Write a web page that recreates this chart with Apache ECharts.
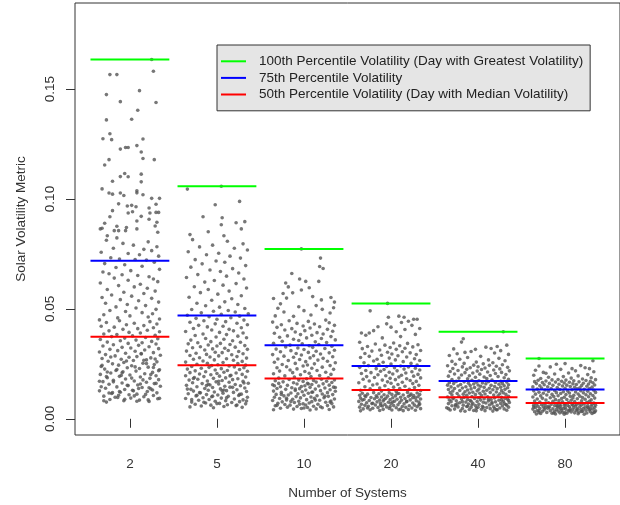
<!DOCTYPE html>
<html>
<head>
<meta charset="utf-8">
<script src="https://cdn.jsdelivr.net/npm/echarts@6/dist/echarts.min.js"></script>
<style>
html,body{margin:0;padding:0;background:#fff}
#main{width:620px;height:505px}
</style>
</head>
<body>
<div id="main"></div>
<script>
// categories and tick labels
var systems = ['2', '5', '10', '20', '40', '80'];
var yTicks = [0, 0.05, 0.10, 0.15];

// percentile lines, one value per category
var pct100 = [0.1635, 0.1058, 0.0773, 0.0525, 0.0396, 0.0274];
var pct75 = [0.0719, 0.0470, 0.0334, 0.0240, 0.0172, 0.0133];
var pct50 = [0.0373, 0.0243, 0.0183, 0.0131, 0.0098, 0.0072];

// jittered points: [jitter, volatility]
var pts2 = [[0.25,0.1635],[-0.23,0.1566],[-0.15,0.1566],[0.27,0.1581],[-0.27,0.1475],[0.11,0.1493],[-0.11,0.1443],[0.30,0.1439],[0.09,0.1404],[-0.27,0.1360],[0.02,0.1363],[-0.23,0.1297],[-0.31,0.1274],[-0.21,0.1270],[0.15,0.1273],[-0.11,0.1227],[-0.05,0.1234],[-0.02,0.1234],[0.08,0.1243],[0.13,0.1214],[-0.24,0.1179],[-0.29,0.1155],[0.15,0.1184],[0.28,0.1179],[-0.06,0.1116],[-0.11,0.1102],[-0.02,0.1101],[0.13,0.1113],[-0.20,0.1081],[0.13,0.1078],[-0.32,0.1046],[0.08,0.1037],[0.08,0.1028],[-0.24,0.1027],[-0.20,0.1022],[-0.11,0.1027],[-0.07,0.1016],[0.15,0.1019],[0.25,0.1003],[0.34,0.1003],[-0.13,0.0978],[0.30,0.0976],[-0.03,0.0968],[0.02,0.0971],[0.07,0.0965],[-0.20,0.0947],[0.22,0.0959],[-0.02,0.0936],[0.03,0.0942],[0.23,0.0936],[0.30,0.0939],[0.33,0.0939],[-0.23,0.0919],[0.13,0.0921],[0.22,0.0908],[0.08,0.0900],[-0.29,0.0890],[0.31,0.0894],[0.29,0.0877],[-0.32,0.0867],[-0.34,0.0864],[-0.15,0.0876],[-0.18,0.0856],[-0.13,0.0856],[-0.04,0.0870],[-0.05,0.0856],[0.08,0.0864],[0.32,0.0849],[-0.26,0.0833],[-0.15,0.0823],
[-0.27,0.0812],[0.21,0.0805],[-0.08,0.0798],[0.04,0.0790],[0.31,0.0783],[-0.19,0.0776],[0.16,0.0771],[0.25,0.0765],[-0.33,0.0758],[-0.02,0.0752],[0.11,0.0746],[0.33,0.0740],[-0.22,0.0733],[-0.12,0.0727],[0.06,0.0725],[0.19,0.0722],[0.28,0.0712],[-0.29,0.0706],[-0.06,0.0701],[0.14,0.0694],[-0.16,0.0688],[0.34,0.0680],[0.01,0.0674],[-0.31,0.0668],[-0.24,0.0660],[-0.09,0.0655],[0.09,0.0652],[0.22,0.0646],[-0.18,0.0640],[0.27,0.0636],[-0.02,0.0630],[0.32,0.0624],[-0.34,0.0618],[0.12,0.0612],[-0.13,0.0606],[0.05,0.0600],[0.20,0.0594],[-0.26,0.0588],[0.29,0.0581],[-0.07,0.0576],[0.16,0.0570],[-0.21,0.0563],[0.02,0.0558],[-0.32,0.0552],[0.25,0.0548],[-0.11,0.0542],[0.10,0.0537],[0.33,0.0531],[-0.28,0.0526],[-0.03,0.0520],[0.18,0.0515],[-0.16,0.0509],[0.07,0.0504],[0.30,0.0498],[-0.23,0.0493],[-0.05,0.0488],[0.14,0.0483],[0.26,0.0478],[-0.30,0.0473],[0.00,0.0468],[0.21,0.0463],[-0.14,0.0459],[0.34,0.0454],[-0.35,0.0450],
[-0.12,0.0446],[0.23,0.0442],[-0.27,0.0438],[0.05,0.0435],[0.31,0.0431],[-0.04,0.0428],[0.16,0.0424],[-0.33,0.0421],[-0.18,0.0417],[0.27,0.0414],[0.09,0.0410],[-0.08,0.0407],[0.20,0.0403],[-0.24,0.0400],[0.34,0.0396],[-0.01,0.0393],[0.12,0.0390],[-0.30,0.0386],[-0.15,0.0383],[0.29,0.0380],[0.03,0.0377],[-0.21,0.0374],[0.18,0.0370],[-0.06,0.0367],[0.32,0.0364],[-0.34,0.0361],[0.07,0.0358],[-0.11,0.0355],[0.25,0.0352],[-0.26,0.0349],[0.14,0.0346],[-0.02,0.0343],[0.30,0.0340],[-0.19,0.0337],[0.10,0.0334],[-0.31,0.0331],[0.22,0.0328],[-0.09,0.0325],[0.01,0.0322],[0.33,0.0319],[-0.23,0.0316],[0.17,0.0313],[-0.14,0.0310],[0.06,0.0307],[-0.35,0.0304],[0.27,0.0301],[-0.05,0.0298],[0.13,0.0295],[-0.28,0.0292],[0.35,0.0289],[-0.17,0.0286],[0.08,0.0283],[-0.01,0.0280],[0.24,0.0277],[-0.32,0.0274],[-0.10,0.0271],[0.19,0.0268],[0.04,0.0265],[-0.25,0.0262],[0.31,0.0259],[-0.07,0.0256],[0.15,0.0253],[-0.20,0.0250],[0.28,0.0247],[-0.13,0.0244],[0.02,0.0241],[-0.33,0.0238],[0.21,0.0235],[-0.03,0.0232],[0.11,0.0229],[-0.29,0.0226],[0.34,0.0223],[-0.16,0.0220],[0.07,0.0217],[-0.08,0.0214],[0.26,0.0211],[-0.22,0.0208],[0.17,0.0205],[-0.34,0.0202],[0.00,0.0199],[0.30,0.0196],[-0.12,0.0193],[0.12,0.0190],[-0.26,0.0187],[0.23,0.0184],[-0.05,0.0181],[0.33,0.0178],[-0.19,0.0175],[0.05,0.0172],[-0.31,0.0169],[0.19,0.0166],[-0.09,0.0163],[0.28,0.0160],[-0.24,0.0157],[0.09,0.0154],[-0.02,0.0151],[0.35,0.0148],[-0.15,0.0145],[0.14,0.0142],[-0.28,0.0139],[0.24,0.0136],[-0.06,0.0133],[0.03,0.0130],[-0.35,0.0127],[0.20,0.0124],[-0.11,0.0121],[0.31,0.0118],[-0.21,0.0115],[0.08,0.0112],[-0.01,0.0109],[0.27,0.0106],[-0.30,0.0103],[0.16,0.0100],[-0.14,0.0097],[0.01,0.0094],[0.32,0.0091],[-0.23,0.0088],[0.11,0.0085],[-0.07,0.0082],[0.22,0.0079],[-0.27,0.0076],
[0.13,0.0297],[-0.22,0.0281],[0.29,0.0272],[-0.04,0.0263],[0.19,0.0251],[-0.32,0.0243],[0.06,0.0236],[-0.15,0.0224],[0.33,0.0219],[-0.09,0.0209],[0.24,0.0201],[-0.27,0.0192],[0.02,0.0185],[0.15,0.0177],[-0.19,0.0168],[0.30,0.0161],[-0.03,0.0152],[-0.33,0.0146],[0.10,0.0138],[0.26,0.0131],[-0.12,0.0124],[-0.24,0.0117],[0.18,0.0111],[0.05,0.0104],[-0.17,0.0098],[0.34,0.0093],[-0.06,0.0089],[0.21,0.0086],[-0.30,0.0082],[0.08,0.0080],[-0.20,0.0119],[0.12,0.0158],[-0.10,0.0197],[0.27,0.0233],[-0.35,0.0171],[0.04,0.0127],[0.22,0.0141],[-0.26,0.0213],[0.16,0.0266],[-0.13,0.0107]];

var pts5 = [[0.05,0.1058],[-0.34,0.1045],[-0.02,0.0974],[0.26,0.0989],[-0.16,0.0919],[0.06,0.0915],[0.22,0.0892],[0.32,0.0897],[0.05,0.0883],[0.28,0.0864],[-0.10,0.0851],[-0.31,0.0838],[0.08,0.0833],
[-0.28,0.0815],[0.12,0.0808],[0.30,0.0796],[-0.05,0.0790],[-0.20,0.0782],[0.20,0.0776],[0.35,0.0768],[-0.33,0.0760],[0.02,0.0753],[-0.12,0.0746],[0.15,0.0740],[0.27,0.0731],[-0.25,0.0724],[-0.01,0.0718],[0.09,0.0712],[-0.17,0.0705],[0.33,0.0697],[-0.30,0.0690],[0.18,0.0683],[-0.08,0.0677],[0.04,0.0670],[0.25,0.0663],[-0.22,0.0656],[0.11,0.0649],[-0.35,0.0643],[0.31,0.0636],[-0.03,0.0629],[-0.14,0.0622],[0.22,0.0615],[0.07,0.0608],[-0.26,0.0601],[0.34,0.0595],[-0.10,0.0588],[0.14,0.0581],[-0.19,0.0574],[0.01,0.0567],[0.28,0.0560],[-0.32,0.0553],[0.17,0.0546],[-0.06,0.0539],[0.09,0.0532],[-0.23,0.0526],[0.24,0.0520],[-0.13,0.0514],[0.03,0.0508],[0.32,0.0502],
[-0.29,0.0497],[0.13,0.0493],[-0.04,0.0489],[0.21,0.0486],[-0.18,0.0482],[0.36,0.0478],[0.05,0.0475],[-0.34,0.0471],[0.26,0.0467],[-0.09,0.0464],[0.16,0.0460],[-0.24,0.0457],[0.00,0.0453],[0.31,0.0449],[-0.15,0.0446],[0.10,0.0442],[-0.31,0.0439],[0.23,0.0435],[-0.02,0.0432],[0.35,0.0428],[-0.21,0.0425],[0.07,0.0421],[-0.11,0.0418],[0.28,0.0414],[-0.27,0.0411],[0.14,0.0407],[-0.06,0.0404],[0.19,0.0400],[-0.36,0.0397],[0.03,0.0393],[0.30,0.0390],[-0.16,0.0386],[0.11,0.0383],[-0.25,0.0379],[0.24,0.0376],[-0.01,0.0372],[0.34,0.0369],[-0.13,0.0365],[0.08,0.0362],[-0.30,0.0358],[0.18,0.0355],[-0.07,0.0351],
[0.27,0.0348],[-0.22,0.0346],[0.04,0.0343],[-0.33,0.0341],[0.15,0.0338],[-0.10,0.0336],[0.32,0.0333],[0.00,0.0331],[-0.19,0.0328],[0.21,0.0326],[-0.28,0.0323],[0.09,0.0321],[-0.05,0.0318],[0.35,0.0316],[-0.14,0.0313],[0.13,0.0311],[-0.35,0.0308],[0.25,0.0306],[-0.02,0.0303],[0.06,0.0301],[-0.24,0.0298],[0.30,0.0296],[-0.12,0.0293],[0.17,0.0291],[-0.31,0.0288],[0.02,0.0286],[0.23,0.0283],[-0.08,0.0281],[-0.20,0.0278],[0.34,0.0276],[0.11,0.0273],[-0.27,0.0271],[-0.03,0.0268],[0.19,0.0266],[-0.16,0.0263],[0.29,0.0261],[-0.36,0.0258],[0.07,0.0256],[-0.11,0.0253],[0.24,0.0251],[-0.23,0.0248],[0.01,0.0246],[0.33,0.0244],[-0.06,0.0242],[0.14,0.0240],
[-0.29,0.0238],[0.20,0.0236],[-0.09,0.0234],[0.31,0.0232],[-0.18,0.0230],[0.05,0.0228],[-0.34,0.0226],[0.26,0.0224],[-0.02,0.0222],[0.12,0.0220],[-0.25,0.0218],[0.35,0.0216],[-0.13,0.0214],[0.08,0.0212],[-0.31,0.0210],[0.22,0.0208],[0.00,0.0206],[-0.20,0.0204],[0.29,0.0202],[-0.07,0.0200],[0.16,0.0198],[-0.36,0.0196],[0.03,0.0194],[-0.15,0.0192],[0.33,0.0190],[-0.26,0.0188],[0.10,0.0186],[-0.04,0.0184],[0.24,0.0182],[-0.22,0.0180],[0.18,0.0178],[-0.32,0.0176],[0.06,0.0174],[-0.11,0.0172],[0.30,0.0170],[-0.01,0.0168],[0.14,0.0166],[-0.28,0.0164],[0.36,0.0162],[-0.17,0.0160],[0.02,0.0158],[0.21,0.0156],[-0.08,0.0154],[-0.35,0.0152],[0.27,0.0150],[0.09,0.0148],[-0.23,0.0146],[0.15,0.0144],[-0.05,0.0142],[0.32,0.0140],[-0.14,0.0138],[0.04,0.0136],[-0.30,0.0134],[0.23,0.0132],[-0.10,0.0130],[0.11,0.0128],[-0.27,0.0126],[0.34,0.0124],[-0.03,0.0122],[0.19,0.0120],[-0.19,0.0118],[0.07,0.0116],[-0.33,0.0114],[0.28,0.0112],[-0.12,0.0110],[0.01,0.0108],[0.25,0.0106],[-0.24,0.0104],[0.13,0.0102],[-0.06,0.0100],[0.35,0.0098],[-0.16,0.0096],[0.05,0.0094],[-0.36,0.0092],[0.20,0.0090],[-0.09,0.0088],[0.30,0.0086],[-0.21,0.0084],[0.10,0.0082],[-0.02,0.0080],[0.26,0.0078],[-0.29,0.0076],[0.17,0.0074],[-0.13,0.0072],[0.03,0.0070],[0.33,0.0068],[-0.25,0.0066],[0.12,0.0064],[-0.07,0.0062],[0.22,0.0060],[-0.18,0.0058],[0.08,0.0056],[-0.31,0.0054],[0.29,0.0052],[-0.04,0.0050],
[0.15,0.0195],[-0.27,0.0183],[0.02,0.0171],[0.31,0.0163],[-0.12,0.0151],[0.18,0.0143],[-0.34,0.0135],[0.06,0.0127],[-0.20,0.0119],[0.26,0.0111],[-0.05,0.0103],[0.11,0.0095],[-0.29,0.0087],[0.34,0.0081],[-0.15,0.0075],[0.00,0.0069],[0.23,0.0063],[-0.23,0.0107],[0.08,0.0131],[-0.10,0.0157]];

var pts10 = [[-0.03,0.0773],[0.19,0.0731],[0.18,0.0693],[0.22,0.0684],[-0.14,0.0661],[-0.05,0.0636],[0.02,0.0625],[0.17,0.0625],[-0.21,0.0618],[-0.18,0.0600],[-0.03,0.0586],[0.06,0.0596],
[-0.35,0.0547],[-0.24,0.0570],[-0.27,0.0523],[-0.20,0.0549],[-0.13,0.0573],[0.10,0.0556],[0.20,0.0541],[0.31,0.0552],[0.35,0.0531],[-0.30,0.0503],[-0.23,0.0486],[-0.12,0.0466],[-0.06,0.0510],[0.08,0.0472],[0.21,0.0498],[0.30,0.0481],[0.34,0.0505],[0.00,0.0492],[0.14,0.0515],[-0.33,0.0468],
[0.25,0.0449],[-0.17,0.0446],[0.05,0.0443],[-0.36,0.0440],[0.29,0.0437],[-0.08,0.0434],[0.12,0.0431],[-0.26,0.0428],[0.35,0.0425],[-0.01,0.0422],[0.18,0.0419],[-0.31,0.0416],[0.07,0.0413],[-0.14,0.0410],[0.27,0.0407],[-0.22,0.0404],[0.01,0.0401],[0.33,0.0398],[-0.10,0.0395],[0.15,0.0392],[-0.34,0.0389],[0.22,0.0386],[-0.04,0.0383],[0.09,0.0380],[-0.19,0.0377],[0.31,0.0374],[-0.28,0.0371],[0.03,0.0368],[0.20,0.0365],[-0.12,0.0362],[0.36,0.0359],[-0.06,0.0356],[-0.25,0.0353],[0.13,0.0350],[0.26,0.0347],[-0.35,0.0344],[-0.02,0.0341],[0.17,0.0338],[-0.16,0.0335],[0.06,0.0332],
[0.32,0.0330],[-0.21,0.0327],[0.10,0.0325],[-0.07,0.0322],[0.24,0.0320],[-0.32,0.0317],[0.00,0.0315],[0.35,0.0312],[-0.15,0.0310],[0.14,0.0307],[-0.27,0.0305],[0.05,0.0302],[0.29,0.0300],[-0.09,0.0297],[0.19,0.0295],[-0.36,0.0292],[-0.03,0.0290],[0.11,0.0287],[-0.23,0.0285],[0.33,0.0282],[-0.12,0.0280],[0.07,0.0277],[0.22,0.0275],[-0.30,0.0272],[-0.05,0.0270],[0.16,0.0267],[-0.18,0.0265],[0.27,0.0262],[0.02,0.0260],[-0.34,0.0257],[0.36,0.0255],[-0.10,0.0252],[0.12,0.0250],[-0.25,0.0247],[0.04,0.0245],[0.30,0.0242],[-0.01,0.0240],[-0.20,0.0237],[0.21,0.0235],[-0.31,0.0232],[0.09,0.0230],[-0.08,0.0227],[0.34,0.0225],[-0.16,0.0222],[0.15,0.0220],[-0.28,0.0217],[0.01,0.0215],[0.25,0.0212],[-0.13,0.0210],[0.06,0.0207],[-0.35,0.0205],[0.31,0.0202],[-0.04,0.0200],[0.18,0.0197],[-0.22,0.0195],[0.08,0.0192],[-0.11,0.0190],[0.28,0.0187],[-0.29,0.0185],[0.03,0.0182],
[0.20,0.0180],[-0.17,0.0179],[0.35,0.0177],[-0.06,0.0176],[0.11,0.0174],[-0.33,0.0173],[0.26,0.0171],[-0.01,0.0170],[-0.24,0.0168],[0.14,0.0167],[0.32,0.0165],[-0.12,0.0164],[0.04,0.0162],[-0.29,0.0161],[0.22,0.0159],[-0.08,0.0158],[0.09,0.0156],[-0.36,0.0155],[0.29,0.0153],[-0.19,0.0152],[0.01,0.0150],[0.17,0.0149],[-0.03,0.0147],[-0.27,0.0146],[0.34,0.0144],[0.07,0.0143],[-0.14,0.0141],[0.24,0.0140],[-0.31,0.0138],[-0.05,0.0137],[0.13,0.0135],[-0.21,0.0134],[0.30,0.0132],[0.02,0.0131],[-0.10,0.0129],[0.19,0.0128],[-0.35,0.0126],[0.36,0.0125],[-0.02,0.0123],[0.10,0.0122],[-0.26,0.0120],[0.27,0.0119],[-0.15,0.0117],[0.05,0.0116],[-0.07,0.0114],[0.21,0.0113],[-0.32,0.0111],[0.33,0.0110],[-0.18,0.0108],[0.00,0.0107],[0.15,0.0105],[-0.23,0.0104],[0.28,0.0102],[-0.09,0.0101],[0.08,0.0099],[-0.34,0.0098],[0.23,0.0096],[-0.04,0.0095],[0.12,0.0093],[-0.28,0.0092],[0.35,0.0090],[-0.13,0.0089],[0.03,0.0087],[-0.20,0.0086],[0.18,0.0084],[-0.36,0.0083],[0.31,0.0081],[-0.06,0.0080],[0.09,0.0078],[-0.25,0.0077],[0.25,0.0075],[-0.11,0.0074],[0.06,0.0072],[-0.30,0.0071],[0.32,0.0069],[-0.01,0.0068],[0.16,0.0066],[-0.22,0.0065],[0.02,0.0063],[-0.16,0.0062],[0.27,0.0060],[-0.33,0.0059],[0.11,0.0057],[-0.08,0.0056],[0.34,0.0054],[-0.19,0.0053],[0.04,0.0051],[0.21,0.0050],[-0.27,0.0048],[-0.03,0.0047],[0.14,0.0045],[-0.12,0.0044],[0.29,0.0042],[-0.35,0.0041],[0.07,0.0040],
[-0.20,0.0093],[0.13,0.0085],[0.30,0.0076],[-0.05,0.0066],[-0.31,0.0061],[0.19,0.0055],[0.00,0.0049],[-0.15,0.0079],[0.24,0.0103],[-0.26,0.0111],[0.09,0.0121],[-0.10,0.0135],[0.36,0.0142],[-0.34,0.0150],[0.05,0.0158]];

var pts20 = [[-0.04,0.0525],[-0.24,0.0491],[-0.03,0.0462],[0.09,0.0467],[0.15,0.0462],[0.26,0.0453],[0.30,0.0453],[-0.34,0.0390],[-0.25,0.0390],[0.00,0.0417],[0.16,0.0406],
[0.20,0.0444],[0.12,0.0438],[-0.05,0.0432],[0.24,0.0425],[-0.15,0.0419],[0.33,0.0411],[-0.20,0.0401],[0.06,0.0396],[-0.29,0.0380],[0.11,0.0374],[0.28,0.0384],[-0.10,0.0368],
[-0.36,0.0348],[0.03,0.0345],[0.19,0.0343],[-0.18,0.0340],[0.31,0.0337],[-0.07,0.0335],[0.10,0.0332],[-0.27,0.0329],[0.25,0.0327],[-0.01,0.0324],[0.16,0.0321],[-0.33,0.0319],[0.06,0.0316],[-0.13,0.0313],[0.34,0.0311],[-0.22,0.0308],[0.13,0.0305],[-0.04,0.0303],[0.22,0.0300],[-0.30,0.0297],[0.01,0.0295],[0.29,0.0292],[-0.11,0.0289],[0.08,0.0287],[-0.25,0.0284],[0.18,0.0281],[-0.35,0.0279],[-0.02,0.0276],[0.27,0.0273],[-0.16,0.0271],[0.05,0.0268],[0.33,0.0265],[-0.20,0.0263],[0.14,0.0260],[-0.09,0.0257],[-0.31,0.0255],[0.23,0.0252],[0.00,0.0249],[-0.14,0.0247],[0.30,0.0244],
[-0.26,0.0242],[0.11,0.0240],[-0.05,0.0238],[0.20,0.0236],[-0.36,0.0234],[0.04,0.0232],[0.28,0.0230],[-0.17,0.0228],[0.15,0.0226],[-0.08,0.0224],[0.33,0.0222],[-0.29,0.0220],[0.07,0.0218],[-0.12,0.0216],[0.24,0.0214],[-0.02,0.0212],[-0.23,0.0210],[0.17,0.0208],[-0.34,0.0206],[0.02,0.0204],[0.31,0.0202],[-0.15,0.0200],[0.12,0.0198],[-0.06,0.0196],[0.26,0.0194],[-0.28,0.0192],[0.09,0.0190],[-0.19,0.0188],[0.34,0.0186],[-0.01,0.0184],[0.18,0.0182],[-0.32,0.0180],[0.05,0.0178],[-0.10,0.0176],[0.22,0.0174],[-0.25,0.0172],[0.29,0.0170],[-0.04,0.0168],[0.13,0.0166],[-0.37,0.0164],[0.00,0.0162],[0.25,0.0160],[-0.16,0.0158],[0.08,0.0156],[-0.21,0.0154],[0.32,0.0152],[-0.07,0.0150],[0.16,0.0148],[-0.30,0.0146],[0.03,0.0144],[0.27,0.0142],[-0.13,0.0140],[0.10,0.0138],[-0.24,0.0136],[0.21,0.0134],[-0.03,0.0132],[-0.35,0.0130],[0.34,0.0128],[-0.11,0.0126],[0.06,0.0124],
[0.19,0.0120],[-0.20,0.0119],[-0.02,0.0118],[0.30,0.0117],[-0.33,0.0116],[0.09,0.0115],[-0.14,0.0114],[0.23,0.0113],[-0.27,0.0112],[0.01,0.0111],[0.33,0.0110],[-0.08,0.0109],[0.14,0.0108],[-0.36,0.0107],[0.26,0.0106],[-0.17,0.0105],[0.05,0.0104],[-0.04,0.0103],[0.20,0.0102],[-0.29,0.0101],[0.31,0.0100],[-0.11,0.0099],[0.11,0.0098],[-0.23,0.0097],[0.02,0.0096],[0.28,0.0095],[-0.35,0.0094],[-0.06,0.0093],[0.16,0.0092],[-0.19,0.0091],[0.34,0.0090],[0.07,0.0089],[-0.31,0.0088],[-0.01,0.0087],[0.22,0.0086],[-0.13,0.0085],[0.12,0.0084],[-0.25,0.0083],[0.29,0.0082],[-0.09,0.0081],[0.04,0.0080],[-0.37,0.0079],[0.18,0.0078],[-0.16,0.0077],[0.32,0.0076],[-0.03,0.0075],[0.10,0.0074],[-0.28,0.0073],[0.25,0.0072],[-0.12,0.0071],[0.00,0.0070],[-0.22,0.0069],[0.15,0.0068],[0.33,0.0067],[-0.34,0.0066],[-0.07,0.0065],[0.08,0.0064],[-0.18,0.0063],[0.27,0.0062],[-0.30,0.0061],[0.03,0.0060],[0.21,0.0059],[-0.10,0.0058],[-0.26,0.0057],[0.13,0.0056],[0.30,0.0055],[-0.05,0.0054],[-0.36,0.0053],[0.17,0.0052],[-0.15,0.0051],[0.06,0.0050],[0.24,0.0049],[-0.21,0.0048],[-0.02,0.0047],[0.34,0.0046],[-0.32,0.0045],[0.11,0.0044],[-0.09,0.0043],[0.20,0.0042],[-0.24,0.0041],[0.01,0.0040],[0.28,0.0039],[-0.13,0.0038],[0.14,0.0037],[-0.35,0.0036],
[0.07,0.0114],[-0.30,0.0105],[0.25,0.0096],[-0.08,0.0088],[0.18,0.0079],[-0.21,0.0071],[0.32,0.0063],[-0.01,0.0056],[-0.27,0.0049],[0.09,0.0041],[-0.16,0.0098],[0.22,0.0107],[-0.33,0.0085],[0.02,0.0076],[-0.12,0.0061]];

var pts40 = [[0.29,0.0396],[-0.17,0.0364],[-0.19,0.0349],[0.15,0.0320],[0.22,0.0329],[0.26,0.0310],[-0.03,0.0316],[-0.24,0.0296],[-0.15,0.0302],
[0.33,0.0335],[0.09,0.0326],[-0.28,0.0318],[-0.08,0.0306],[0.19,0.0299],[0.35,0.0293],[-0.33,0.0288],[0.03,0.0284],[-0.12,0.0279],[0.24,0.0275],[-0.21,0.0271],[0.12,0.0268],[0.31,0.0264],[-0.30,0.0261],[-0.02,0.0258],[0.17,0.0255],[-0.16,0.0252],[0.06,0.0250],
[-0.26,0.0248],[0.28,0.0246],[-0.05,0.0244],[0.13,0.0243],[-0.35,0.0241],[0.21,0.0239],[0.00,0.0237],[-0.18,0.0236],[0.34,0.0234],[-0.09,0.0232],[0.08,0.0231],[-0.29,0.0229],[0.25,0.0227],[-0.13,0.0225],[0.04,0.0224],[0.18,0.0222],[-0.23,0.0220],[0.36,0.0218],[-0.01,0.0217],[-0.32,0.0215],[0.11,0.0213],[0.27,0.0211],[-0.15,0.0210],[-0.06,0.0208],[0.20,0.0206],[-0.27,0.0204],[0.02,0.0203],[0.32,0.0201],[-0.19,0.0199],[0.14,0.0197],[-0.10,0.0196],[-0.34,0.0194],[0.23,0.0192],[0.07,0.0190],[-0.03,0.0189],[0.30,0.0187],[-0.22,0.0185],[0.10,0.0183],[-0.12,0.0182],[0.35,0.0180],[-0.30,0.0178],[0.16,0.0176],[-0.07,0.0175],[0.01,0.0173],[0.26,0.0171],
[-0.25,0.0170],[0.12,0.0169],[-0.16,0.0168],[0.33,0.0167],[-0.02,0.0166],[0.20,0.0165],[-0.33,0.0164],[0.05,0.0163],[-0.11,0.0162],[0.28,0.0161],[-0.28,0.0160],[0.09,0.0159],[-0.05,0.0158],[0.24,0.0157],[-0.20,0.0156],[0.35,0.0155],[0.00,0.0154],[-0.35,0.0153],[0.15,0.0152],[-0.09,0.0151],[0.30,0.0150],[-0.23,0.0149],[0.03,0.0148],[0.19,0.0147],[-0.14,0.0146],[-0.31,0.0145],[0.26,0.0144],[0.07,0.0143],[-0.04,0.0142],[0.34,0.0141],[-0.18,0.0140],[0.13,0.0139],[-0.27,0.0138],[0.22,0.0137],[-0.08,0.0136],[0.01,0.0135],[0.31,0.0134],[-0.34,0.0133],[0.17,0.0132],[-0.12,0.0131],[0.10,0.0130],[-0.21,0.0129],[0.27,0.0128],[-0.01,0.0127],[-0.29,0.0126],[0.06,0.0125],[0.36,0.0124],[-0.15,0.0123],[0.21,0.0122],[-0.06,0.0121],[0.14,0.0120],[-0.32,0.0119],[0.29,0.0118],[-0.10,0.0117],[0.02,0.0116],[-0.24,0.0115],[0.25,0.0114],[0.08,0.0113],[-0.17,0.0112],[0.32,0.0111],[-0.03,0.0110],[-0.30,0.0109],[0.18,0.0108],[-0.13,0.0107],[0.04,0.0106],
[0.23,0.0104],[-0.22,0.0103],[0.35,0.0102],[-0.07,0.0101],[0.11,0.0100],[-0.35,0.0099],[0.27,0.0098],[-0.16,0.0097],[0.00,0.0096],[0.19,0.0095],[-0.28,0.0094],[0.31,0.0093],[-0.04,0.0092],[0.07,0.0091],[-0.19,0.0090],[0.34,0.0089],[-0.12,0.0088],[0.15,0.0087],[-0.33,0.0086],[0.03,0.0085],[0.24,0.0084],[-0.09,0.0083],[-0.25,0.0082],[0.12,0.0081],[0.29,0.0080],[-0.01,0.0079],[-0.31,0.0078],[0.20,0.0077],[-0.14,0.0076],[0.06,0.0075],[0.36,0.0074],[-0.21,0.0073],[0.09,0.0072],[-0.06,0.0071],[0.26,0.0070],[-0.34,0.0069],[0.16,0.0068],[-0.11,0.0067],[0.01,0.0066],[0.32,0.0065],[-0.26,0.0064],[0.13,0.0063],[-0.17,0.0062],[0.22,0.0061],[-0.03,0.0060],[-0.30,0.0059],[0.28,0.0058],[0.05,0.0057],[-0.13,0.0056],[0.18,0.0055],[-0.23,0.0054],[0.35,0.0053],[-0.08,0.0052],[0.10,0.0051],[-0.36,0.0050],[0.25,0.0049],[-0.02,0.0048],[-0.18,0.0047],[0.14,0.0046],[0.30,0.0045],[-0.27,0.0044],[0.04,0.0043],[-0.10,0.0042],[0.21,0.0041],[-0.32,0.0040],[0.33,0.0039],[-0.05,0.0038],[0.08,0.0037],[-0.20,0.0036],[0.17,0.0035],[-0.15,0.0034],
[0.02,0.0097],[-0.29,0.0091],[0.27,0.0086],[-0.08,0.0080],[0.16,0.0074],[-0.24,0.0068],[0.33,0.0062],[-0.12,0.0057],[0.06,0.0051],[-0.34,0.0046],[0.22,0.0041],[-0.02,0.0036],[0.12,0.0089],[-0.18,0.0078],[0.30,0.0070],[-0.07,0.0064],[0.00,0.0053],[-0.26,0.0058],[0.19,0.0047],[0.35,0.0083]];

var pts80 = [[-0.30,0.0274],[0.32,0.0264],[-0.30,0.0240],[-0.10,0.0248],[0.00,0.0251],[0.28,0.0228],[0.08,0.0228],[-0.22,0.0207],
[0.18,0.0242],[-0.17,0.0236],[0.23,0.0232],[-0.05,0.0225],[-0.34,0.0221],[0.12,0.0218],[0.33,0.0214],[-0.25,0.0211],[0.04,0.0208],[-0.12,0.0204],[0.26,0.0201],[-0.36,0.0198],[0.15,0.0195],[-0.02,0.0192],[-0.19,0.0189],[0.30,0.0187],[0.07,0.0185],[-0.28,0.0183],[0.20,0.0181],[-0.08,0.0179],
[0.35,0.0178],[-0.15,0.0177],[0.01,0.0176],[-0.31,0.0175],[0.24,0.0174],[0.10,0.0173],[-0.22,0.0172],[-0.04,0.0171],[0.29,0.0170],[-0.35,0.0169],[0.16,0.0168],[-0.11,0.0167],[0.05,0.0166],[-0.26,0.0165],[0.32,0.0164],[-0.01,0.0163],[0.21,0.0162],[-0.18,0.0161],[-0.33,0.0160],[0.09,0.0159],[0.27,0.0158],[-0.07,0.0157],[0.13,0.0156],[-0.24,0.0155],[0.34,0.0154],[0.02,0.0153],[-0.14,0.0152],[0.19,0.0151],[-0.29,0.0150],[-0.03,0.0149],[0.25,0.0148],[0.06,0.0147],[-0.20,0.0146],[-0.37,0.0145],[0.31,0.0144],[0.11,0.0143],[-0.09,0.0142],[0.17,0.0141],[-0.27,0.0140],[0.00,0.0139],[0.28,0.0138],[-0.16,0.0137],[0.14,0.0136],[-0.32,0.0135],[0.22,0.0134],
[-0.06,0.0133],[0.08,0.0132],[-0.23,0.0131],[0.33,0.0130],[-0.12,0.0129],[0.18,0.0128],[-0.36,0.0127],[0.03,0.0126],[0.26,0.0125],[-0.19,0.0124],[-0.02,0.0123],[0.12,0.0122],[-0.30,0.0121],[0.35,0.0120],[-0.10,0.0119],[0.21,0.0118],[0.05,0.0117],[-0.25,0.0116],[-0.05,0.0115],[0.29,0.0114],[0.15,0.0113],[-0.34,0.0112],[-0.15,0.0111],[0.01,0.0110],[0.24,0.0109],[-0.21,0.0108],[0.10,0.0107],[0.32,0.0106],[-0.08,0.0105],[-0.28,0.0104],[0.17,0.0103],[0.06,0.0102],[-0.13,0.0101],[0.27,0.0100],[-0.37,0.0099],[-0.01,0.0098],[0.20,0.0097],[-0.17,0.0096],[0.09,0.0095],[0.34,0.0094],[-0.26,0.0093],[-0.04,0.0092],[0.14,0.0091],[-0.32,0.0090],[0.23,0.0089],[0.02,0.0088],[-0.11,0.0087],[0.30,0.0086],[-0.22,0.0085],[0.07,0.0084],[-0.07,0.0083],[0.19,0.0082],[-0.35,0.0081],[0.28,0.0080],[-0.14,0.0079],[0.11,0.0078],[-0.03,0.0077],[-0.29,0.0076],[0.25,0.0075],[0.04,0.0074],[-0.19,0.0073],[0.33,0.0072],[-0.09,0.0071],[0.16,0.0070],[-0.24,0.0069],[0.00,0.0068],[0.22,0.0067],[-0.33,0.0066],[0.13,0.0065],[-0.06,0.0064],
[0.31,0.0066],[-0.16,0.0065],[0.08,0.0065],[-0.27,0.0064],[0.19,0.0063],[-0.01,0.0063],[0.35,0.0062],[-0.36,0.0062],[0.03,0.0061],[-0.12,0.0060],[0.26,0.0060],[-0.22,0.0059],[0.12,0.0058],[-0.05,0.0058],[0.30,0.0057],[-0.31,0.0057],[0.17,0.0056],[-0.09,0.0055],[0.05,0.0055],[-0.25,0.0054],[0.23,0.0053],[0.00,0.0053],[-0.18,0.0052],[0.34,0.0052],[-0.34,0.0051],[0.10,0.0050],[-0.07,0.0050],[0.27,0.0049],[-0.20,0.0048],[0.14,0.0048],[-0.02,0.0047],[-0.29,0.0047],[0.21,0.0046],[0.06,0.0045],[-0.14,0.0045],[0.32,0.0044],[-0.37,0.0044],[0.01,0.0043],[0.18,0.0042],[-0.10,0.0042],[-0.24,0.0041],[0.28,0.0040],[0.09,0.0040],[-0.04,0.0039],[0.24,0.0039],[-0.32,0.0038],[0.13,0.0037],[-0.17,0.0037],[0.35,0.0036],[-0.08,0.0035],[0.04,0.0035],[-0.26,0.0034],[0.20,0.0034],[-0.12,0.0033],[0.29,0.0032],[-0.35,0.0032],[0.07,0.0031],[-0.03,0.0030],[0.16,0.0030],[-0.21,0.0029],[0.33,0.0029],[-0.30,0.0028],[0.11,0.0027],[-0.06,0.0027],[0.25,0.0026],[-0.15,0.0025],[0.02,0.0025],[0.31,0.0024],[-0.28,0.0024],[0.15,0.0023],[-0.11,0.0022],[-0.33,0.0022],[0.22,0.0021],[-0.01,0.0021],
[0.09,0.0061],[-0.19,0.0056],[0.26,0.0051],[-0.05,0.0046],[0.14,0.0041],[-0.30,0.0036],[0.34,0.0031],[-0.13,0.0026],[0.05,0.0039],[-0.23,0.0049],[0.19,0.0033],[-0.36,0.0054],[0.29,0.0044],[0.00,0.0028],[-0.09,0.0059]];

var groups = [pts2, pts5, pts10, pts20, pts40, pts80];
var seriesNames = [
  '100th Percentile Volatility (Day with Greatest Volatility)',
  '75th Percentile Volatility',
  '50th Percentile Volatility (Day with Median Volatility)'
];

var cloud = [];
groups.forEach(function (g, i) {
  g.forEach(function (p) { cloud.push([i + 1 + p[0], p[1]]); });
});

// one short horizontal segment per category, gaps between
function segments(vals) {
  var out = [];
  vals.forEach(function (v, i) {
    out.push([i + 0.547, v], [i + 1.453, v], [i + 1.453, '-']);
  });
  return out;
}

var font = 'Liberation Sans, Arial, Helvetica, sans-serif';
var fs = 13.5;
var myChart = echarts.init(document.getElementById('main'));

var option = {
  animation: false,
  textStyle: { fontFamily: font },
  grid: {
    left: 75, top: 3, width: 546, height: 434,
    show: true, borderColor: '#333', borderWidth: 1, backgroundColor: 'transparent'
  },
  legend: {
    data: seriesNames,
    orient: 'vertical',
    left: 217, top: 45,
    backgroundColor: '#e5e5e5',
    borderColor: '#333', borderWidth: 1, borderRadius: 0,
    padding: [8, 7, 8, 4],
    itemGap: 0,
    itemWidth: 25, itemHeight: 2,
    icon: 'rect',
    textStyle: { fontSize: fs, color: '#222', fontFamily: font, lineHeight: 16.6, padding: [0, 0, 0, 8] }
  },
  xAxis: {
    type: 'value',
    min: 0.369, max: 6.631,
    name: 'Number of Systems',
    nameLocation: 'middle',
    nameGap: 51,
    nameTextStyle: { fontSize: fs, color: '#333' },
    axisLine: { show: false },
    splitLine: { show: false },
    axisTick: { show: true, length: 9, customValues: [1, 2, 3, 4, 5, 6], lineStyle: { color: '#333' } },
    axisLabel: {
      customValues: [1, 2, 3, 4, 5, 6],
      margin: 22, fontSize: fs, color: '#333',
      formatter: function (v) { return systems[Math.round(v) - 1]; }
    }
  },
  yAxis: {
    type: 'value',
    min: -0.00738, max: 0.18918,
    name: 'Solar Volatility Metric',
    nameLocation: 'middle',
    nameGap: 47,
    nameTextStyle: { fontSize: fs, color: '#333' },
    axisLine: { show: false },
    splitLine: { show: false },
    axisTick: { show: true, length: 9, customValues: yTicks, lineStyle: { color: '#333' } },
    axisLabel: {
      customValues: yTicks,
      rotate: 90, margin: 18, fontSize: fs, color: '#333',
      formatter: function (v) { return v.toFixed(2); }
    }
  },
  series: [
    {
      type: 'scatter',
      name: 'days',
      data: cloud,
      symbolSize: 3.6,
      itemStyle: { color: '#555' },
      silent: true
    },
    { type: 'line', name: seriesNames[0], data: segments(pct100), symbol: 'none', connectNulls: false, color: '#00ff00', lineStyle: { width: 2, color: '#00ff00' } },
    { type: 'line', name: seriesNames[1], data: segments(pct75), symbol: 'none', connectNulls: false, color: '#0000ff', lineStyle: { width: 2, color: '#0000ff' } },
    { type: 'line', name: seriesNames[2], data: segments(pct50), symbol: 'none', connectNulls: false, color: '#ff0000', lineStyle: { width: 2, color: '#ff0000' } }
  ]
};

myChart.setOption(option);
</script>
</body>
</html>
